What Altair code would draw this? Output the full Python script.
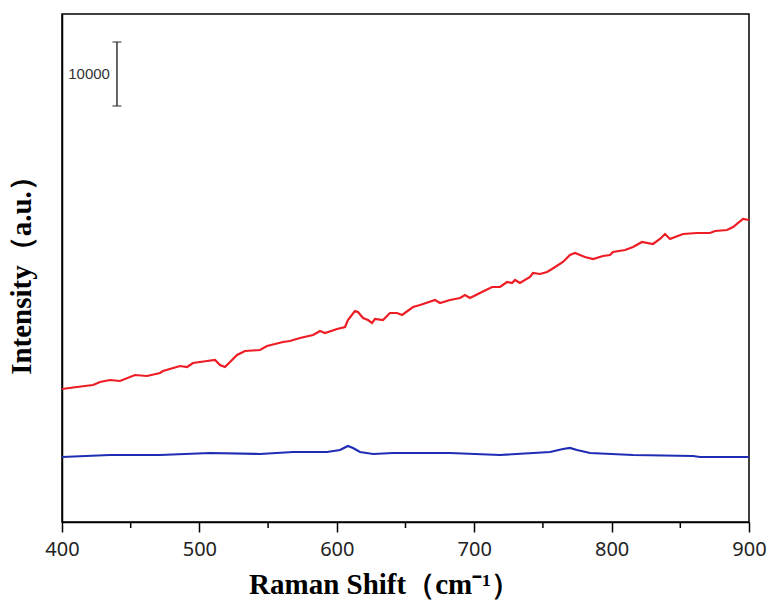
import altair as alt
import pandas as pd

# Raman shift (cm-1) and intensity
red_x = [400.0, 410.9, 422.6, 427.7, 434.9, 442.2, 453.1, 461.9, 471.3, 473.5, 485.9, 491.0,
         495.3, 505.5, 511.4, 515.0, 518.6, 522.3, 527.4, 533.2, 544.1, 549.2, 560.8, 565.9,
         573.2, 582.7, 587.8, 591.4, 600.2, 606.0, 608.1, 613.2, 615.4, 619.1, 622.7, 625.6,
         627.8, 633.6, 638.7, 643.8, 647.5, 655.5, 660.6, 671.5, 675.1, 682.4, 689.7, 693.3,
         696.9, 704.2, 713.0, 718.8, 723.9, 727.5, 729.7, 733.3, 740.6, 742.8, 747.9, 753.0,
         756.6, 764.6, 769.7, 773.4, 777.0, 780.6, 786.5, 793.7, 798.8, 801.0, 809.8, 815.6,
         822.1, 830.1, 835.2, 838.9, 842.5, 846.2, 852.0, 862.2, 871.6, 875.3, 884.0, 888.4,
         895.6, 900.0]
red_y = [20781, 21094, 21406, 21875, 22188, 22031, 22969, 22813, 23281, 23594, 24375, 24219,
         24844, 25156, 25313, 24531, 24219, 25000, 26094, 26719, 26875, 27500, 28125, 28281,
         28750, 29219, 29844, 29531, 30156, 30469, 31563, 32969, 32813, 31875, 31563, 31094,
         31719, 31563, 32656, 32656, 32344, 33594, 33906, 34688, 34219, 34688, 35000, 35469,
         35000, 35781, 36719, 36719, 37500, 37344, 37813, 37344, 38281, 38906, 38750, 39063,
         39531, 40625, 41719, 42031, 41719, 41406, 41094, 41563, 41719, 42188, 42500, 42969,
         43750, 43438, 44219, 45000, 44219, 44531, 45000, 45156, 45156, 45469, 45625, 46094,
         47344, 47188]

blue_x = [400.0, 434.9, 471.3, 507.7, 544.1, 568.1, 592.9, 602.3, 608.1, 611.8, 616.9, 626.4,
          640.9, 682.4, 718.8, 755.2, 764.6, 769.7, 774.8, 784.3, 815.6, 859.3, 864.3, 900.0]
blue_y = [10156, 10469, 10469, 10781, 10625, 10938, 10938, 11250, 11875, 11563, 10938, 10625,
          10781, 10781, 10469, 10938, 11406, 11563, 11250, 10781, 10469, 10313, 10156, 10156]

x_ticks = [400, 500, 600, 700, 800, 900]
minor_ticks = [450, 550, 650, 750, 850]

# scale bar: 10000 intensity units
bar_x = [440]
bar_lo = [65000]
bar_hi = [75000]
bar_label = ["10000"]

red_df = pd.DataFrame({"x": red_x, "y": red_y})
blue_df = pd.DataFrame({"x": blue_x, "y": blue_y})
minor_df = pd.DataFrame({"x": minor_ticks})
bar_df = pd.DataFrame({"x": bar_x, "lo": bar_lo, "hi": bar_hi, "mid": [70000], "label": bar_label})
caps_df = pd.DataFrame({"x": bar_x * 2, "y": bar_lo + bar_hi})

W, H = 687, 508

xscale = alt.Scale(domain=[400, 900], nice=False, zero=False)
yscale = alt.Scale(domain=[0, 79375], nice=False, zero=False)

xaxis = alt.Axis(values=x_ticks, title="Raman Shift（cm⁻¹）", grid=False, tickSize=10,
                 tickColor="black", tickWidth=1.5, labelFontSize=20,
                 labelFont="Noto Sans", labelColor="#222222", labelPadding=7,
                 titleFont="Liberation Serif", titleFontSize=29, titleFontWeight="bold",
                 titleColor="black", titlePadding=11, titleX=322,
                 domainColor="black", domainWidth=1.5, labelFlush=False)
yaxis = alt.Axis(title="Intensity（a.u.）", grid=False, ticks=False, labels=False,
                 titleFont="Liberation Serif", titleFontSize=29, titleFontWeight="bold",
                 titleColor="black", titlePadding=26, domainColor="black", domainWidth=1.5)

red = alt.Chart(red_df).mark_line(color="#ee1c24", strokeWidth=2.2).encode(
    x=alt.X("x:Q", scale=xscale, axis=xaxis),
    y=alt.Y("y:Q", scale=yscale, axis=yaxis),
)
blue = alt.Chart(blue_df).mark_line(color="#1f2db4", strokeWidth=2.2).encode(
    x=alt.X("x:Q", scale=xscale),
    y=alt.Y("y:Q", scale=yscale),
)
minor = alt.Chart(minor_df).mark_rule(color="black", strokeWidth=1.5).encode(
    x=alt.X("x:Q", scale=xscale),
    y=alt.value(H),
    y2=alt.value(H + 6),
)
bar = alt.Chart(bar_df).mark_rule(color="#333333", strokeWidth=1.5).encode(
    x=alt.X("x:Q", scale=xscale),
    y=alt.Y("lo:Q", scale=yscale),
    y2="hi:Q",
)
caps = alt.Chart(caps_df).mark_tick(color="#333333", size=9, thickness=1.5, orient="horizontal").encode(
    x=alt.X("x:Q", scale=xscale),
    y=alt.Y("y:Q", scale=yscale),
)
label = alt.Chart(bar_df).mark_text(align="right", baseline="middle", dx=-7, fontSize=15,
                                    font="Liberation Sans", color="#333333").encode(
    x=alt.X("x:Q", scale=xscale),
    y=alt.Y("mid:Q", scale=yscale),
    text="label:N",
)

chart = alt.layer(red, blue, minor, bar, caps, label).properties(
    width=W, height=H,
    autosize=alt.AutoSizeParams(type="none"),
    padding={"left": 62, "top": 14, "right": 19, "bottom": 79},
    background="white",
).configure_view(stroke="black", strokeWidth=1.5)

chart.save("out.html", embed_options={"renderer": "svg", "actions": False})
